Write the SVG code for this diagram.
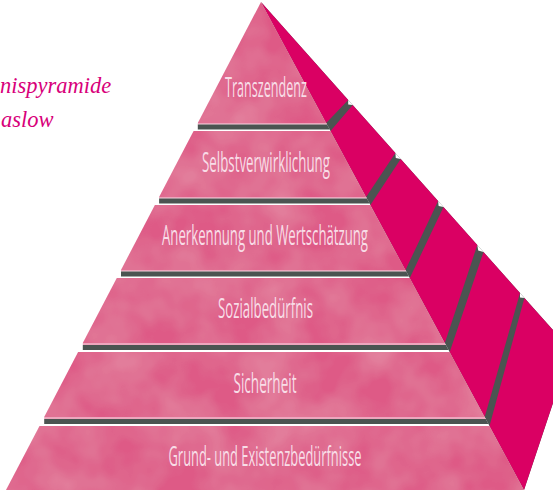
<svg xmlns="http://www.w3.org/2000/svg" width="553" height="490" viewBox="0 0 553 490">
  <style>
    .front { fill: #de5a86; }
    .side { fill: #da0063; }
    .sep { fill: #4b5451; }
    .hl { fill: #eda6bd; }
    .notch { fill: #ffffff; }
    .lbl { font-family: "Open Sans", "Liberation Sans", sans-serif; font-size: 27px; fill: #f8dde7; text-anchor: middle; }
    .title { font-family: "Liberation Serif", "DejaVu Serif", serif; font-style: italic; font-size: 22.5px; fill: #d8007a; }
  </style>
  <defs>
    <filter id="tex" x="0" y="0" width="100%" height="100%">
      <feTurbulence type="fractalNoise" baseFrequency="0.02" numOctaves="3" seed="7" result="n"/>
      <feColorMatrix in="n" type="matrix" values="0 0 0 0 1  0 0 0 0 1  0 0 0 0 1  0.24 0 0 0 -0.07" result="w"/>
      <feComposite in="w" in2="SourceGraphic" operator="in" result="wc"/>
      <feMerge><feMergeNode in="SourceGraphic"/><feMergeNode in="wc"/></feMerge>
    </filter>
  </defs>

  <rect width="553" height="490" fill="#ffffff"/>

  <g id="title">
    <text class="title" x="0" y="93">nispyramide</text>
    <text class="title" x="1" y="127">aslow</text>
  </g>

  <!-- side underlay (gaps between side blocks) and front separator bars -->
  <g id="separators">
    <polygon class="sep" points="261,2 524,490 570.7,350"/>
    <polygon class="hl" points="197.8,123 326.2,123 327.1,124.6 197.8,124.6"/>
    <polygon class="sep" points="197.8,124.5 327.1,124.5 329.8,129.5 197.8,129.5"/>
    <polygon class="hl" points="159.1,197 366.1,197 367,198.6 159.1,198.6"/>
    <polygon class="sep" points="159.1,198.5 367,198.5 369.6,203.5 159.1,203.5"/>
    <polygon class="hl" points="121,270 405.5,270 406.3,271.6 121,271.6"/>
    <polygon class="sep" points="121,271.5 406.3,271.5 409,276.5 121,276.5"/>
    <polygon class="hl" points="82.8,343 444.8,343 445.9,345.1 82.8,345.1"/>
    <polygon class="sep" points="82.8,345 445.9,345 448.6,350 82.8,350"/>
    <polygon class="hl" points="44.2,417 484.7,417 485.8,419.1 44.2,419.1"/>
    <polygon class="sep" points="44.2,419 485.8,419 488.5,424 44.2,424"/>
    <polygon class="notch" points="348.2,100 348.2,104.5 352.7,105"/>
    <polygon class="notch" points="395.4,153 395.8,158 400.7,159"/>
    <polygon class="notch" points="438.1,201 438.6,206 443.5,207"/>
    <polygon class="notch" points="477.3,245 478.2,250.5 483.5,252"/>
    <polygon class="notch" points="520,293 520,297.5 524.4,298"/>
  </g>

  <g id="level-1">
    <polygon class="side" points="261,2 326.2,123 348.2,100"/>
    <polygon class="front" filter="url(#tex)" points="261,2 326.2,123 197.8,123"/>
    <text class="lbl" transform="translate(266,97) scale(0.6,1)" x="0" y="0" textLength="136.7" lengthAdjust="spacingAndGlyphs">Transzendenz</text>
  </g>

  <g id="level-2">
    <polygon class="side" points="330.5,131 366.1,197 395.4,153 352.7,105"/>
    <polygon class="front" filter="url(#tex)" points="193.6,131 330.5,131 366.1,197 159.1,197"/>
    <text class="lbl" transform="translate(266,172) scale(0.6,1)" x="0" y="0" textLength="213.3" lengthAdjust="spacingAndGlyphs">Selbstverwirklichung</text>
  </g>

  <g id="level-3">
    <polygon class="side" points="370.4,205 405.5,270 438.1,201 400.7,159"/>
    <polygon class="front" filter="url(#tex)" points="154.9,205 370.4,205 405.5,270 121,270"/>
    <text class="lbl" transform="translate(265,245) scale(0.6,1)" x="0" y="0" textLength="343.3" lengthAdjust="spacingAndGlyphs">Anerkennung und Wertschätzung</text>
  </g>

  <g id="level-4">
    <polygon class="side" points="409.8,278 444.8,343 477.3,245 443.5,207"/>
    <polygon class="front" filter="url(#tex)" points="116.8,278 409.8,278 444.8,343 82.8,343"/>
    <text class="lbl" transform="translate(265.5,318) scale(0.6,1)" x="0" y="0" textLength="158.3" lengthAdjust="spacingAndGlyphs">Sozialbedürfnis</text>
  </g>

  <g id="level-5">
    <polygon class="side" points="449.7,352 484.7,417 520,293 483.5,252"/>
    <polygon class="front" filter="url(#tex)" points="78.1,352 449.7,352 484.7,417 44.2,417"/>
    <text class="lbl" transform="translate(265,393) scale(0.6,1)" x="0" y="0" textLength="105" lengthAdjust="spacingAndGlyphs">Sicherheit</text>
  </g>

  <g id="level-6">
    <polygon class="side" points="489.5,426 524,490 570.7,350 524.4,298"/>
    <polygon class="front" filter="url(#tex)" points="39.5,426 489.5,426 524,490 6,490"/>
    <text class="lbl" transform="translate(265,466) scale(0.6,1)" x="0" y="0" textLength="321.7" lengthAdjust="spacingAndGlyphs">Grund- und Existenzbedürfnisse</text>
  </g>
</svg>
